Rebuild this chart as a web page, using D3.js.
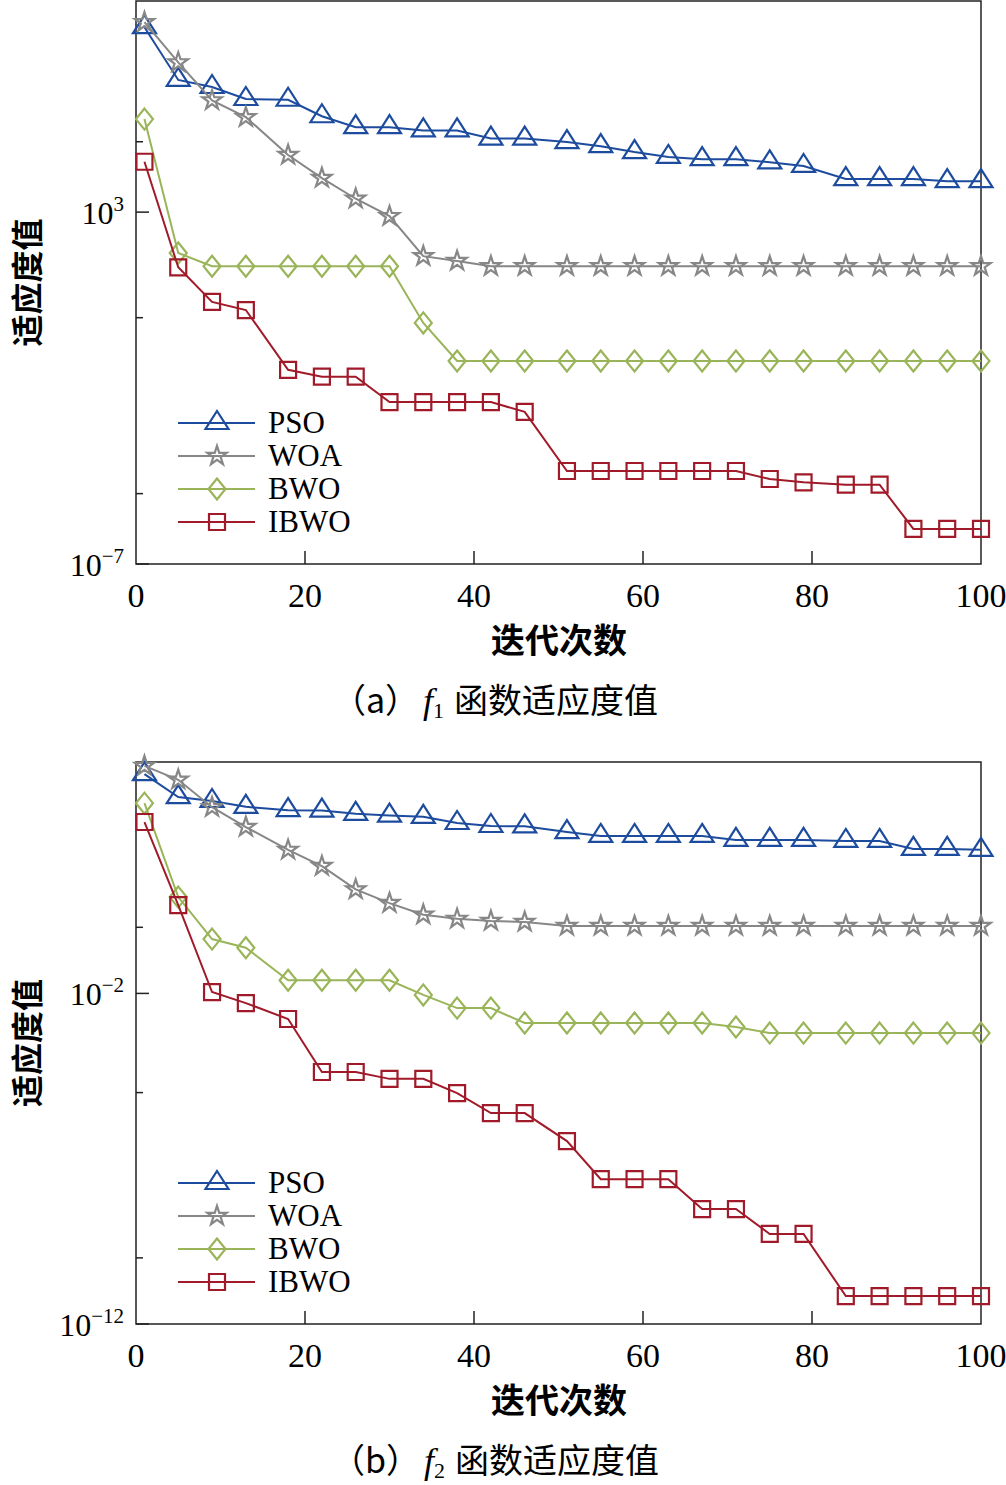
<!DOCTYPE html>
<html>
<head>
<meta charset="utf-8">
<script src="https://cdn.jsdelivr.net/npm/d3@7"></script>
<style>
  body { margin: 0; background: #fff; }
</style>
</head>
<body>
<div id="chart"></div>
<script>
// iteration numbers where a marker is drawn
const iterations = [1, 5, 9, 13, 18, 22, 26, 30, 34, 38, 42, 46, 51, 55, 59, 63, 67, 71, 75, 79, 84, 88, 92, 96, 100];
const seriesNames = ["PSO", "WOA", "BWO", "IBWO"];
const xTicks = [0, 20, 40, 60, 80, 100];

// (a) f1
const f1PSO = [1.8e8, 5.7e6, 3.6e6, 1.64e6, 1.56e6, 5.3e5, 2.6e5, 2.6e5, 2.1e5, 2.1e5, 1.23e5, 1.23e5, 9.8e4,
  7.5e4, 5.1e4, 3.7e4, 3.2e4, 3.2e4, 2.6e4, 2.05e4, 8.7e3, 8.7e3, 8.7e3, 7.6e3, 7.6e3];
const f1WOA = [2.5e8, 1.8e7, 1.5e6, 5.0e5, 4.2e4, 9.3e3, 2.4e3, 770, 56, 41, 29, 29, 29,
  29, 29, 29, 29, 29, 29, 29, 29, 29, 29, 29, 29];
const f1BWO = [4.4e5, 69, 29, 29, 29, 29, 29, 29, 0.71, 0.059, 0.059, 0.059, 0.059,
  0.059, 0.059, 0.059, 0.059, 0.059, 0.059, 0.059, 0.059, 0.059, 0.059, 0.059, 0.059];
const f1IBWO = [2.7e4, 27, 2.8, 1.65, 0.033, 0.021, 0.021, 4.0e-3, 4.0e-3, 4.0e-3, 4.0e-3, 2.1e-3, 4.4e-5,
  4.4e-5, 4.4e-5, 4.4e-5, 4.4e-5, 4.4e-5, 2.6e-5, 2.1e-5, 1.8e-5, 1.8e-5, 9.9e-7, 9.9e-7, 9.9e-7];
const f1LabelTicks = [1e-7, 1e3];
const f1MinorTicks = [1e-5, 1e0, 1e5];

// (b) f2
const f2PSO = [4.3e4, 8.7e3, 6.6e3, 4.4e3, 3.5e3, 3.4e3, 2.7e3, 2.4e3, 2.2e3, 1.43e3, 1.16e3, 1.13e3, 760,
  580, 580, 580, 580, 440, 440, 440, 410, 410, 235, 235, 220];
const f2WOA = [7.6e4, 2.9e4, 4.3e3, 1.08e3, 220, 71, 14, 5.4, 2.4, 1.8, 1.55, 1.45, 1.09,
  1.09, 1.09, 1.09, 1.09, 1.09, 1.09, 1.09, 1.09, 1.09, 1.09, 1.09, 1.09];
const f2BWO = [5.7e3, 8.2, 0.44, 0.24, 0.025, 0.025, 0.025, 0.025, 9.0e-3, 3.6e-3, 3.6e-3, 1.27e-3, 1.27e-3,
  1.27e-3, 1.27e-3, 1.27e-3, 1.27e-3, 9.6e-4, 6.3e-4, 6.3e-4, 6.3e-4, 6.3e-4, 6.3e-4, 6.3e-4, 6.3e-4];
const f2IBWO = [1.53e3, 4.7, 0.011, 5.1e-3, 1.68e-3, 4.2e-5, 4.2e-5, 2.6e-5, 2.6e-5, 9.7e-6, 2.4e-6, 2.4e-6, 3.4e-7,
  2.4e-8, 2.4e-8, 2.4e-8, 3.0e-9, 3.0e-9, 5.3e-10, 5.3e-10, 7.0e-12, 7.0e-12, 7.0e-12, 7.0e-12, 7.0e-12];
const f2LabelTicks = [1e-12, 1e-2];
const f2MinorTicks = [1e-10, 1e-5, 1e0];

const colors = { PSO: "#1d4c9e", WOA: "#878787", BWO: "#9ab559", IBWO: "#a01a29" };
const serif = "'Liberation Serif', 'Times New Roman', serif";
const cjk = "'Noto Sans CJK SC', sans-serif";

const svg = d3.select("#chart")
  .append("svg")
  .attr("width", 1006)
  .attr("height", 1485);

function markerPath(name) {
  if (name === "PSO") return "M0,-12L11.5,6L-11.5,6Z";
  if (name === "WOA") return d3.symbol(d3.symbolStar, 115)();
  if (name === "BWO") return "M0,-10.5L8.5,0L0,10.5L-8.5,0Z";
  return "M-8,-8H8V8H-8Z";
}

function drawPanel(p) {
  const left = 136, right = 981;
  const x = d3.scaleLinear().domain([0, 100]).range([left, right]);
  const y = d3.scaleLog().domain(p.domain).range([p.bottom, p.top]);
  const g = svg.append("g");

  // frame
  g.append("rect")
    .attr("x", left).attr("y", p.top)
    .attr("width", right - left).attr("height", p.bottom - p.top)
    .attr("fill", "none").attr("stroke", "#222").attr("stroke-width", 1.5);

  // x ticks (inward) and labels
  g.selectAll(".xt").data(xTicks.filter(d => d > 0 && d < 100)).enter()
    .append("line")
    .attr("x1", d => x(d)).attr("x2", d => x(d))
    .attr("y1", p.bottom).attr("y2", p.bottom - 13)
    .attr("stroke", "#222").attr("stroke-width", 1.5);
  g.selectAll(".xl").data(xTicks).enter()
    .append("text")
    .attr("x", d => x(d)).attr("y", p.bottom + 43)
    .attr("text-anchor", "middle")
    .attr("font-family", serif).attr("font-size", 34)
    .text(d => d);

  // y ticks
  g.selectAll(".ym").data(p.minorTicks).enter()
    .append("line")
    .attr("x1", left).attr("x2", left + 7)
    .attr("y1", d => y(d)).attr("y2", d => y(d))
    .attr("stroke", "#222").attr("stroke-width", 1.5);
  g.selectAll(".yt").data(p.labelTicks).enter()
    .append("line")
    .attr("x1", left).attr("x2", left + 13)
    .attr("y1", d => y(d)).attr("y2", d => y(d))
    .attr("stroke", "#222").attr("stroke-width", 1.5);
  const yl = g.selectAll(".yl").data(p.labelTicks).enter()
    .append("text")
    .attr("x", 124).attr("y", d => y(d) + 12)
    .attr("text-anchor", "end")
    .attr("font-family", serif).attr("font-size", 32);
  yl.append("tspan").text("10");
  yl.append("tspan")
    .attr("dy", -13).attr("font-size", 21)
    .text(d => String(Math.round(Math.log10(d))).replace("-", "\u2212"));

  // series
  p.series.forEach((values, i) => {
    const name = seriesNames[i];
    const pts = iterations.map((it, k) => [it, values[k]]);
    g.append("path")
      .datum(pts)
      .attr("fill", "none")
      .attr("stroke", colors[name])
      .attr("stroke-width", 2)
      .attr("d", d3.line().x(d => x(d[0])).y(d => y(d[1])));
    g.selectAll(".m" + name).data(pts).enter()
      .append("path")
      .attr("transform", d => `translate(${x(d[0])},${y(d[1])})`)
      .attr("d", markerPath(name))
      .attr("fill", "none")
      .attr("stroke", colors[name])
      .attr("stroke-width", 2.2);
  });

  // legend
  const rowsY = [141, 108, 75, 42];
  seriesNames.forEach((name, i) => {
    const ly = p.bottom - rowsY[i];
    g.append("line")
      .attr("x1", 178).attr("x2", 255).attr("y1", ly).attr("y2", ly)
      .attr("stroke", colors[name]).attr("stroke-width", 2);
    g.append("path")
      .attr("transform", `translate(217,${ly})`)
      .attr("d", markerPath(name))
      .attr("fill", "none").attr("stroke", colors[name]).attr("stroke-width", 2.2);
    g.append("text")
      .attr("x", 268).attr("y", ly + 10)
      .attr("font-family", serif).attr("font-size", 31)
      .text(name);
  });

  // axis titles
  g.append("text")
    .attr("x", 559).attr("y", p.bottom + 74)
    .attr("dominant-baseline", "central")
    .attr("text-anchor", "middle")
    .attr("font-family", cjk).attr("font-size", 34).attr("font-weight", "bold")
    .text("迭代次数");
  g.append("text")
    .attr("transform", `translate(25,${(p.top + p.bottom) / 2}) rotate(-90)`)
    .attr("dominant-baseline", "central")
    .attr("text-anchor", "middle")
    .attr("font-family", cjk).attr("font-size", 32).attr("font-weight", "bold")
    .text("适应度值");

  // caption
  const cap = g.append("text")
    .attr("x", 495).attr("y", p.bottom + 149)
    .attr("text-anchor", "middle")
    .attr("font-family", cjk).attr("font-size", 34);
  cap.append("tspan").text("（" + p.letter + "）");
  cap.append("tspan").attr("font-family", serif).attr("font-style", "italic").attr("font-size", 36).attr("dx", 4).text("f");
  cap.append("tspan").attr("font-family", serif).attr("font-size", 22).attr("dy", 5).text(p.sub);
  cap.append("tspan").attr("dy", -5).attr("dx", 10).text("函数适应度值");
}

drawPanel({
  top: 1, bottom: 564, domain: [1e-7, 1e9],
  labelTicks: f1LabelTicks, minorTicks: f1MinorTicks,
  series: [f1PSO, f1WOA, f1BWO, f1IBWO], letter: "a", sub: "1"
});
drawPanel({
  top: 762, bottom: 1324, domain: [1e-12, 1e5],
  labelTicks: f2LabelTicks, minorTicks: f2MinorTicks,
  series: [f2PSO, f2WOA, f2BWO, f2IBWO], letter: "b", sub: "2"
});
</script>
</body>
</html>
